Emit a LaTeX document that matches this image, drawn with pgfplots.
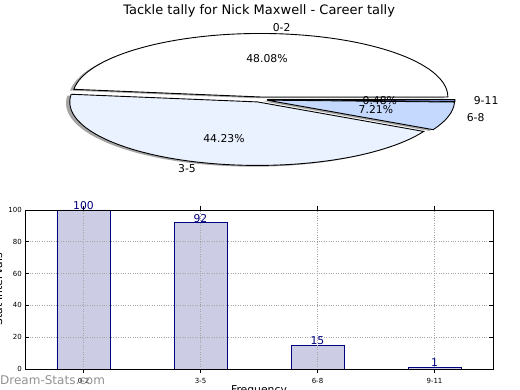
\documentclass[border=0pt]{standalone}
\usepackage{pgfplots}
\pgfplotsset{compat=1.18}
\usepackage{fontspec}
\setmainfont{DejaVu Sans}
\definecolor{barfill}{RGB}{204,204,229}
\definecolor{navy}{RGB}{0,0,128}
\definecolor{pieA}{RGB}{255,255,255}
\definecolor{pieB}{RGB}{235,242,255}
\definecolor{pieC}{RGB}{197,217,255}
\definecolor{pieD}{RGB}{130,160,235}
\definecolor{shadowc}{RGB}{165,165,165}
\definecolor{wmark}{RGB}{145,145,145}
% values (tally per interval)
\def\vA{100}\def\vB{92}\def\vC{15}\def\vD{1}
\pgfmathsetmacro\tot{\vA+\vB+\vC+\vD}
\pgfmathsetmacro\aA{360*(\vA/\tot)}
\pgfmathsetmacro\aB{\aA+360*(\vB/\tot)}
\pgfmathsetmacro\aC{\aB+360*(\vC/\tot)}
\def\rx{187.7bp}\def\ry{63.5bp}
\def\expl{0.04}
\newcommand\pieshadow[2]{\pgfplotsextra{%
  \pgfmathsetmacro\pmd{(#1+#2)/2}%
  \pgfmathsetmacro\pox{\expl*cos(\pmd)-0.02}%
  \pgfmathsetmacro\poy{\expl*sin(\pmd)-0.02}%
  \pgfmathsetmacro\psx{\pox+cos(#1)}%
  \pgfmathsetmacro\psy{\poy+sin(#1)}%
  \fill[shadowc] (axis cs:\psx,\psy) arc[start angle=#1, end angle=#2, x radius=\rx, y radius=\ry] -- (axis cs:\pox,\poy) -- cycle;}}
\newcommand\piewedge[3]{\pgfplotsextra{%
  \pgfmathsetmacro\pmd{(#1+#2)/2}%
  \pgfmathsetmacro\pox{\expl*cos(\pmd)}%
  \pgfmathsetmacro\poy{\expl*sin(\pmd)}%
  \pgfmathsetmacro\psx{\pox+cos(#1)}%
  \pgfmathsetmacro\psy{\poy+sin(#1)}%
  \filldraw[fill=#3, draw=black, line width=0.9bp, line join=miter] (axis cs:\psx,\psy) arc[start angle=#1, end angle=#2, x radius=\rx, y radius=\ry] -- (axis cs:\pox,\poy) -- cycle;}}
\newcommand\fnt[1]{\fontsize{#1}{#1}\selectfont}
\begin{document}
\begin{tikzpicture}
\useasboundingbox (0bp,0bp) rectangle (520bp,390bp);
% ---------- pie ----------
\begin{axis}[at={(259.7bp,290.5bp)}, anchor=origin, hide axis, clip=false,
  x=\rx, y=\ry, xmin=-1.38, xmax=1.38, ymin=-1.5, ymax=1.5]
\pieshadow{0}{\aA}
\pieshadow{\aA}{\aB}
\pieshadow{\aB}{\aC}
\pieshadow{\aC}{360}
\piewedge{0}{\aA}{pieA}
\piewedge{\aA}{\aB}{pieB}
\piewedge{\aB}{\aC}{pieC}
\piewedge{\aC}{360}{pieD}
\node[anchor=west, inner sep=0pt, font=\fnt{10.8bp}] at (axis cs:0.0688,1.1379) {0-2};
\node[anchor=east, inner sep=0pt, font=\fnt{10.8bp}] at (axis cs:-0.3392,-1.0884) {3-5};
\node[anchor=west, inner sep=0pt, font=\fnt{10.8bp}] at (axis cs:1.1026,-0.2895) {6-8};
\node[anchor=west, inner sep=0pt, font=\fnt{10.8bp}] at (axis cs:1.1399,-0.0172) {9-11};
\node[inner sep=0pt, font=\fnt{10.8bp}] at (axis cs:0.0387,0.6389) {48.08\%};
\node[inner sep=0pt, font=\fnt{10.8bp}] at (axis cs:-0.1904,-0.6110) {44.23\%};
\node[inner sep=0pt, font=\fnt{10.8bp}] at (axis cs:0.6190,-0.1626) {7.21\%};
\node[inner sep=0pt, font=\fnt{10.8bp}] at (axis cs:0.6399,-0.0097) {0.48\%};
\node[anchor=base, inner sep=0pt, font=\fnt{13bp}] at (axis cs:-0.003,1.339) {Tackle tally for Nick Maxwell - Career tally};
\end{axis}
% ---------- bars ----------
\begin{axis}[at={(25bp,21bp)}, anchor=south west, scale only axis,
  width=468bp, height=159bp,
  xmin=-0.5, xmax=3.5, ymin=0, ymax=100,
  xtick={0,1,2,3}, xticklabels={0-2,3-5,6-8,9-11},
  ytick={0,20,40,60,80,100},
  grid=major, major grid style={dotted, black!35, line width=0.6bp},
  tick align=inside, major tick length=4bp, tick style={black, line width=0.6bp},
  axis line style={line width=0.9bp}, axis on top,
  /pgf/number format/assume math mode=true,
  ticklabel style={font=\fnt{7bp}},
  xticklabel style={anchor=north, inner sep=0pt, yshift=-5.5bp},
  yticklabel style={anchor=east, inner sep=0pt, xshift=-3bp},
  xlabel={Frequency}, ylabel={Stat Intervals},
  every axis y label/.style={at={(rel axis cs:-0.0491,0.5)}, rotate=90, anchor=base, inner sep=0pt, font=\fnt{10.8bp}},
  every axis x label/.style={at={(rel axis cs:0.5,-0.1006)}, anchor=north, inner sep=0pt, font=\fnt{10.8bp}},
  ybar, bar width=53bp,
  nodes near coords,
  nodes near coords style={font=\fnt{10.8bp}, text=navy, anchor=base, inner sep=0pt, yshift=0.5bp},
]
\addplot[fill=barfill, draw=navy, line width=0.9bp] coordinates {(0,100) (1,92) (2,15) (3,1)};
\end{axis}
\node[anchor=base west, inner sep=0pt, text=wmark, font=\fnt{12bp}] at (0bp,6bp) {Dream-Stats.com};
\end{tikzpicture}
\end{document}
